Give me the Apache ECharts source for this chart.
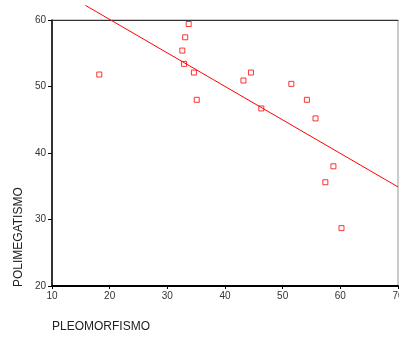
<!DOCTYPE html>
<html>
<head>
<meta charset="utf-8">
<script src="https://cdn.jsdelivr.net/npm/echarts@6/dist/echarts.min.js"></script>
<style>
  html, body {margin: 0; padding: 0; background: #fff;}
  #chart {width: 399px; height: 337px;}
</style>
</head>
<body>
<div id="chart"></div>
<script>
// puntos
var pleomorfismo = [18.2, 33.7, 33.1, 32.6, 32.9, 34.6, 35.1, 44.5, 43.2, 51.5, 54.2, 46.3, 55.7, 58.8, 57.4, 60.2];
var polimegatismo = [51.8, 59.4, 57.4, 55.4, 53.4, 52.1, 48.0, 52.1, 50.9, 50.4, 48.0, 46.7, 45.2, 38.0, 35.6, 28.7];
// recta de ajuste (extremos)
var ajusteX = [15.8, 70];
var ajusteY = [62.2, 34.9];

var puntos = pleomorfismo.map(function (x, i) { return [x, polimegatismo[i]]; });
var recta = ajusteX.map(function (x, i) { return [x, ajusteY[i]]; });

var chart = echarts.init(document.getElementById('chart'));

var option = {
    animation: false,
    grid: {left: 52, top: 20, width: 346, height: 266, outerBoundsMode: 'none', containLabel: false,
           show: true, borderColor: '#999', borderWidth: 1, backgroundColor: 'transparent'},
    xAxis: [{
        type: 'value', min: 10, max: 70, interval: 10, position: 'bottom',
        axisLine: {show: true, onZero: false, lineStyle: {color: '#000', width: 2}},
        axisTick: {show: true, length: 3, lineStyle: {color: '#000'}},
        axisLabel: {color: '#333', fontSize: 10, fontFamily: 'Liberation Sans', margin: 5},
        splitLine: {show: false}
    }, {
        type: 'value', min: 10, max: 70, position: 'top',
        axisLine: {show: true, onZero: false, lineStyle: {color: '#333', width: 1}},
        axisTick: {show: false}, axisLabel: {show: false}, splitLine: {show: false}
    }],
    yAxis: {
        type: 'value', min: 20, max: 60, interval: 10,
        axisLine: {show: true, onZero: false, lineStyle: {color: '#000', width: 1.5}},
        axisTick: {show: true, length: 4, lineStyle: {color: '#000'}},
        axisLabel: {color: '#333', fontSize: 10, fontFamily: 'Liberation Sans', margin: 6},
        splitLine: {show: false}
    },
    graphic: [
        {type: 'text', left: 52, top: 321, style: {text: 'PLEOMORFISMO', fontSize: 12, fontFamily: 'Liberation Sans', fill: '#222'}},
        {type: 'text', x: 13, y: 287, rotation: Math.PI / 2, style: {text: 'POLIMEGATISMO', fontSize: 12, fontFamily: 'Liberation Sans', fill: '#222'}}
    ],
    series: [{
        type: 'line', data: recta, symbol: 'none', clip: false, silent: true,
        lineStyle: {color: '#ff0000', width: 1}
    }, {
        type: 'scatter', data: puntos, symbol: 'rect', symbolSize: 5,
        itemStyle: {color: '#fff', borderColor: '#ff0000', borderWidth: 1}
    }]
};

chart.setOption(option);
</script>
</body>
</html>
